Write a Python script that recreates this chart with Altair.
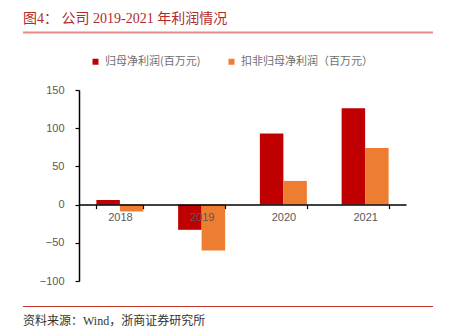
import altair as alt
import pandas as pd

years = ["2018", "2019", "2020", "2021"]
series_names = ["归母净利润(百万元)", "扣非归母净利润（百万元）"]
np_parent = [6, -33, 93, 126]
np_deducted = [-9, -60, 31, 74]
colors = ["#C00000", "#ED7D31"]
y_ticks = [-100, -50, 0, 50, 100, 150]

title_text = "图4：  公司 2019-2021 年利润情况"
source_text = "资料来源：Wind，浙商证券研究所"

rows = []
for i, y in enumerate(years):
    rows.append({"year": y, "series": series_names[0], "value": np_parent[i]})
    rows.append({"year": y, "series": series_names[1], "value": np_deducted[i]})
df = pd.DataFrame(rows)

W, H = 327, 191
ymin, ymax = -100, 150
zero_off = -H * (0 - ymin) / (ymax - ymin)

bars = alt.Chart(df).mark_bar().encode(
    x=alt.X("year:N", sort=years,
            scale=alt.Scale(paddingInner=0.425, paddingOuter=0.2125),
            axis=alt.Axis(title=None, orient="bottom", offset=zero_off,
                          domainColor="black", domainWidth=1.5,
                          tickColor="black", tickSize=4, tickBand="extent", tickWidth=1.2,
                          labelColor="#595959", labelFont="Liberation Sans",
                          labelFontSize=11, labelPadding=3, labelAngle=0, zindex=1)),
    xOffset=alt.XOffset("series:N", sort=series_names),
    y=alt.Y("value:Q", scale=alt.Scale(domain=[ymin, ymax], nice=False, zero=False),
            axis=alt.Axis(title=None, values=y_ticks, grid=False,
                          domainColor="black", domainWidth=1.5,
                          tickColor="black", tickSize=4, tickWidth=1.2,
                          labelColor="#595959", labelFont="Liberation Sans",
                          labelFontSize=11, labelPadding=11)),
    color=alt.Color("series:N", sort=series_names,
                    scale=alt.Scale(domain=series_names, range=colors),
                    legend=alt.Legend(title=None, orient="none", direction="horizontal",
                                      legendX=11, legendY=-34, padding=0,
                                      symbolType="square", symbolSize=36,
                                      symbolStrokeWidth=0, labelOffset=4,
                                      columnPadding=25,
                                      labelFont="Noto Sans CJK SC", labelFontSize=11,
                                      labelColor="#6E6E6E", labelLimit=300)),
)

title_df = pd.DataFrame({"t": [title_text]})
title = alt.Chart(title_df).mark_text(
    align="left", baseline="middle", fontSize=14,
    font="Liberation Serif, Noto Sans CJK SC", color="#B02A2A"
).encode(x=alt.value(-56), y=alt.value(-71), text="t:N")

source_df = pd.DataFrame({"t": [source_text]})
source = alt.Chart(source_df).mark_text(
    align="left", baseline="middle", fontSize=12,
    font="Liberation Serif, Noto Sans CJK SC", color="#333333"
).encode(x=alt.value(-56), y=alt.value(231), text="t:N")

line_df = pd.DataFrame({"k": [0]})
top_line = alt.Chart(line_df).mark_rule(color="#E38A8A", strokeWidth=2).encode(
    x=alt.value(-56), x2=alt.value(354), y=alt.value(-57.5))
bottom_line = alt.Chart(line_df).mark_rule(color="#C0392B", strokeWidth=1).encode(
    x=alt.value(-56), x2=alt.value(354), y=alt.value(216.5))

chart = alt.layer(bars, title, source, top_line, bottom_line).properties(
    width=W, height=H,
    autosize=alt.AutoSizeParams(type="none"),
    padding={"left": 79, "top": 90, "right": 47, "bottom": 48},
    background="white",
).configure_view(stroke=None)

chart.save("out.html", embed_options={"renderer": "svg", "actions": False})
